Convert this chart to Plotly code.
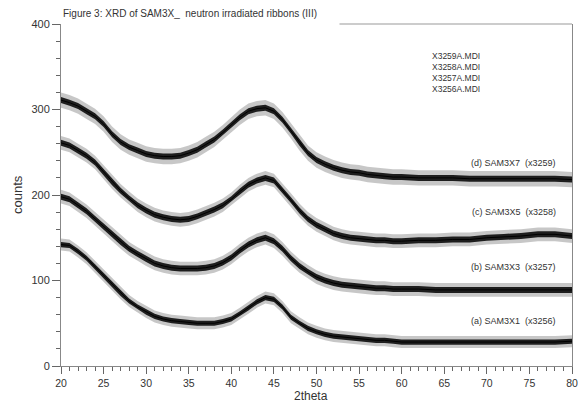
import plotly.graph_objects as go

# 2theta sampling positions (degrees)
two_theta = [20, 21, 22, 23, 24, 25, 26, 27, 28, 29, 30, 31, 32, 33, 34, 35, 36, 37, 38, 39,
             40, 41, 42, 43, 44, 45, 46, 47, 48, 49, 50, 51, 52, 53, 54, 55, 56, 57, 58, 59,
             60, 62, 64, 66, 68, 70, 72, 74, 76, 78, 80]

# counts (mean of the noisy trace)
sam3x7 = [311, 308, 304, 298, 292, 283, 271, 262, 256, 252, 248, 246, 245, 245, 246, 249, 253, 259, 265, 273,
          282, 291, 298, 301, 302, 298, 288, 275, 261, 249, 241, 236, 232, 229, 227, 226, 224, 223, 222, 221,
          221, 220, 220, 220, 219, 219, 219, 219, 219, 219, 218]
sam3x5 = [261, 258, 252, 246, 238, 227, 215, 205, 196, 188, 182, 177, 174, 172, 171, 172, 175, 179, 183, 188,
          195, 204, 212, 217, 220, 217, 206, 194, 182, 172, 165, 160, 155, 152, 150, 149, 148, 147, 147, 146,
          146, 147, 147, 148, 148, 150, 151, 152, 154, 154, 152]
sam3x3 = [198, 195, 188, 181, 172, 163, 154, 145, 137, 131, 125, 120, 117, 115, 114, 114, 114, 115, 117, 121,
          127, 135, 142, 147, 150, 146, 137, 126, 117, 110, 104, 100, 97, 95, 94, 93, 92, 91, 91, 90,
          90, 90, 89, 89, 89, 89, 89, 89, 89, 89, 89]
sam3x1 = [142, 141, 134, 126, 116, 106, 95, 85, 76, 69, 63, 58, 55, 53, 52, 51, 50, 50, 50, 52,
          55, 61, 68, 75, 80, 78, 69, 57, 50, 44, 40, 37, 35, 34, 33, 32, 31, 30, 30, 29,
          28, 28, 28, 28, 28, 28, 28, 28, 28, 28, 29]

series = [sam3x7, sam3x5, sam3x3, sam3x1]
# noise half-amplitudes (spikes, dense core), counts
noise_outer = [9, 8, 8, 7]
noise_inner = [3.5, 3.5, 3.5, 3]

curve_labels = ["(d) SAM3X7\u00a0\u00a0(x3259)", "(c) SAM3X5\u00a0\u00a0(x3258)",
                "(b) SAM3X3\u00a0\u00a0(x3257)", "(a) SAM3X1\u00a0\u00a0(x3256)"]
label_counts = [238, 180, 116, 53]
file_labels = ["X3259A.MDI", "X3258A.MDI", "X3257A.MDI", "X3256A.MDI"]
file_counts = [363, 350, 337, 324]

x_ticks = [20, 25, 30, 35, 40, 45, 50, 55, 60, 65, 70, 75, 80]
y_ticks = [0, 100, 200, 300, 400]

fig = go.Figure()
for vals, no, ni in zip(series, noise_outer, noise_inner):
    for amp, col in ((no, "rgba(0,0,0,0.22)"), (ni, "rgba(0,0,0,0.85)")):
        up = [v + amp for v in vals]
        lo = [v - amp for v in vals]
        fig.add_trace(go.Scatter(x=two_theta + two_theta[::-1], y=up + lo[::-1],
                                 fill="toself", fillcolor=col, line=dict(width=0),
                                 mode="lines", hoverinfo="skip", showlegend=False))
    fig.add_trace(go.Scatter(x=two_theta, y=vals, mode="lines",
                             line=dict(color="black", width=1), showlegend=False))

font_main = "Liberation Sans, Arial, sans-serif"
for txt, yc in zip(curve_labels, label_counts):
    fig.add_annotation(x=78.4, y=yc, xref="x", yref="y", text=txt, showarrow=False,
                       xanchor="right", yanchor="middle",
                       font=dict(family=font_main, size=9, color="#333"))
for txt, yc in zip(file_labels, file_counts):
    fig.add_annotation(x=63.3, y=yc, xref="x", yref="y", text=txt, showarrow=False,
                       xanchor="left", yanchor="middle",
                       font=dict(family=font_main, size=8.5, color="#333"))

fig.add_annotation(x=0, y=1.03, xref="paper", yref="paper", showarrow=False,
                   text="Figure 3: XRD of SAM3X_\u00a0\u00a0neutron irradiated ribbons (III)",
                   xanchor="left", yanchor="middle",
                   font=dict(family=font_main, size=10, color="#333"))
fig.add_annotation(x=0.49, y=-0.089, xref="paper", yref="paper", showarrow=False,
                   text="2theta", xanchor="center", yanchor="middle",
                   font=dict(family=font_main, size=12, color="#333"))
fig.add_annotation(x=-0.086, y=0.5, xref="paper", yref="paper", showarrow=False,
                   text="counts", textangle=-90, xanchor="center", yanchor="middle",
                   font=dict(family=font_main, size=13, color="#333"))

# partial top frame (hidden under the title on the left)
fig.add_shape(type="line", xref="paper", yref="paper", x0=0.545, x1=1, y0=1, y1=1,
              line=dict(color="#999", width=1))

fig.update_xaxes(range=[20, 80], tickvals=x_ticks, ticktext=[str(t) for t in x_ticks],
                 ticks="outside", ticklen=7, tickwidth=1, tickcolor="#666",
                 minor=dict(dtick=1, ticklen=4, tickcolor="#666", ticks="outside"),
                 showline=True, linecolor="#888", linewidth=1, showgrid=False, zeroline=False,
                 automargin=False, ticklabeloverflow="allow",
                 tickfont=dict(family=font_main, size=10.5, color="#333"))
fig.update_yaxes(range=[0, 400], tickvals=y_ticks, ticktext=[str(t) for t in y_ticks],
                 ticks="outside", ticklen=8, tickwidth=1, tickcolor="#666",
                 minor=dict(dtick=20, ticklen=4, tickcolor="#666", ticks="outside"),
                 showline=True, mirror=True, linecolor="#888", linewidth=1,
                 showgrid=False, zeroline=False, automargin=False,
                 tickfont=dict(family=font_main, size=11, color="#333"))

fig.update_layout(width=578, height=402, margin=dict(l=61, r=6, t=24, b=36),
                  plot_bgcolor="white", paper_bgcolor="white")

fig.write_html("out.html")
